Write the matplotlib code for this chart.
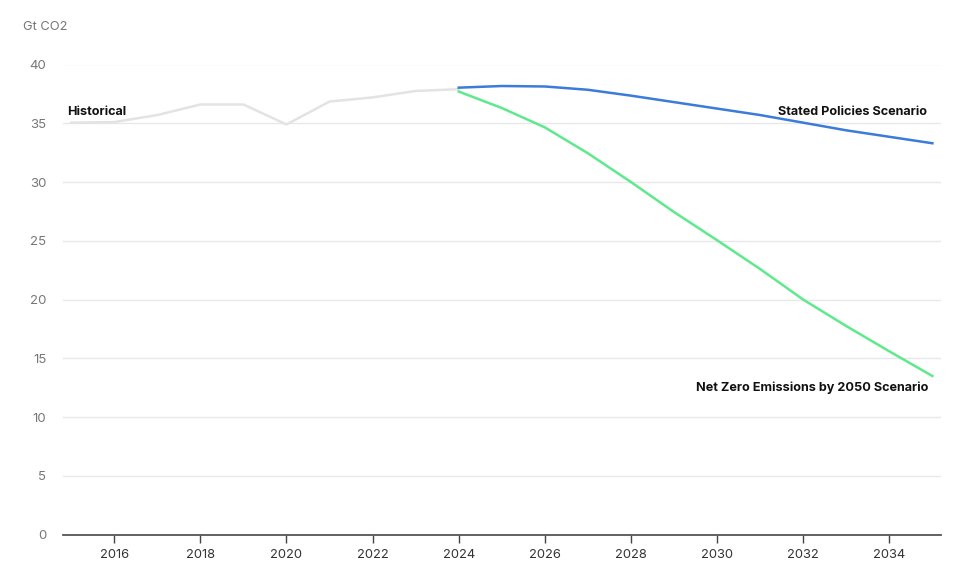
import matplotlib
matplotlib.use("Agg")
import matplotlib.pyplot as plt

years_hist = [2015, 2016, 2017, 2018, 2019, 2020, 2021, 2022, 2023, 2024]
hist = [35.05, 35.1, 35.7, 36.6, 36.6, 34.9, 36.85, 37.2, 37.75, 37.9]

years_proj = list(range(2024, 2036))
steps = [38.03, 38.17, 38.13, 37.85, 37.35, 36.8, 36.25, 35.7, 35.05, 34.4, 33.85, 33.3]
nze = [37.7, 36.3, 34.65, 32.45, 30.0, 27.45, 25.05, 22.6, 20.0, 17.75, 15.6, 13.5]

xticks = list(range(2016, 2036, 2))
yticks = list(range(0, 45, 5))

plt.rcParams['font.family'] = ['Inter', 'DejaVu Sans']

fig = plt.figure(figsize=(9.8, 5.74), dpi=100)
ax = fig.add_axes([63/980, 1-534.7/574, (941-63)/980, (534.7-64.5)/574])

ax.plot(years_hist, hist, color='#e3e3e3', lw=1.8, clip_on=False, zorder=3)
ax.plot(years_proj, steps, color='#3b7bd9', lw=1.8, clip_on=False, zorder=4)
ax.plot(years_proj, nze, color='#5eea8c', lw=1.8, clip_on=False, zorder=4)

ax.set_xlim(2014.81, 2035.2)
ax.set_ylim(0, 40)
ax.set_xticks(xticks)
ax.set_xticklabels([str(t) for t in xticks])
ax.set_yticks(yticks)
ax.set_yticklabels([str(t) for t in yticks])

ax.grid(axis='y', color='#e8e8e8', lw=1)
ax.set_axisbelow(True)
for s in ['top', 'right', 'left']:
    ax.spines[s].set_visible(False)
ax.spines['bottom'].set_color('#555555')
ax.spines['bottom'].set_linewidth(1.3)
ax.spines['bottom'].set_zorder(5)
ax.tick_params(axis='x', length=6, width=1, color='#444444', labelcolor='#333333', labelsize=9.3, pad=4)
ax.tick_params(axis='y', length=0, labelcolor='#777777', labelsize=9.5, pad=12)

ax.text(2014.9, 36.0, 'Historical', fontsize=9.1, fontweight='bold', color='#111111', ha='left', va='center')
ax.text(2034.87, 35.94, 'Stated Policies Scenario', fontsize=9.1, fontweight='bold', color='#111111', ha='right', va='center')
ax.text(2034.9, 12.46, 'Net Zero Emissions by 2050 Scenario', fontsize=9.1, fontweight='bold', color='#111111', ha='right', va='center')

fig.text(23/980, 1-27/574, 'Gt CO2', fontsize=9.3, color='#777777', ha='left', va='center')

fig.savefig('out.png', dpi=100, facecolor='white')
